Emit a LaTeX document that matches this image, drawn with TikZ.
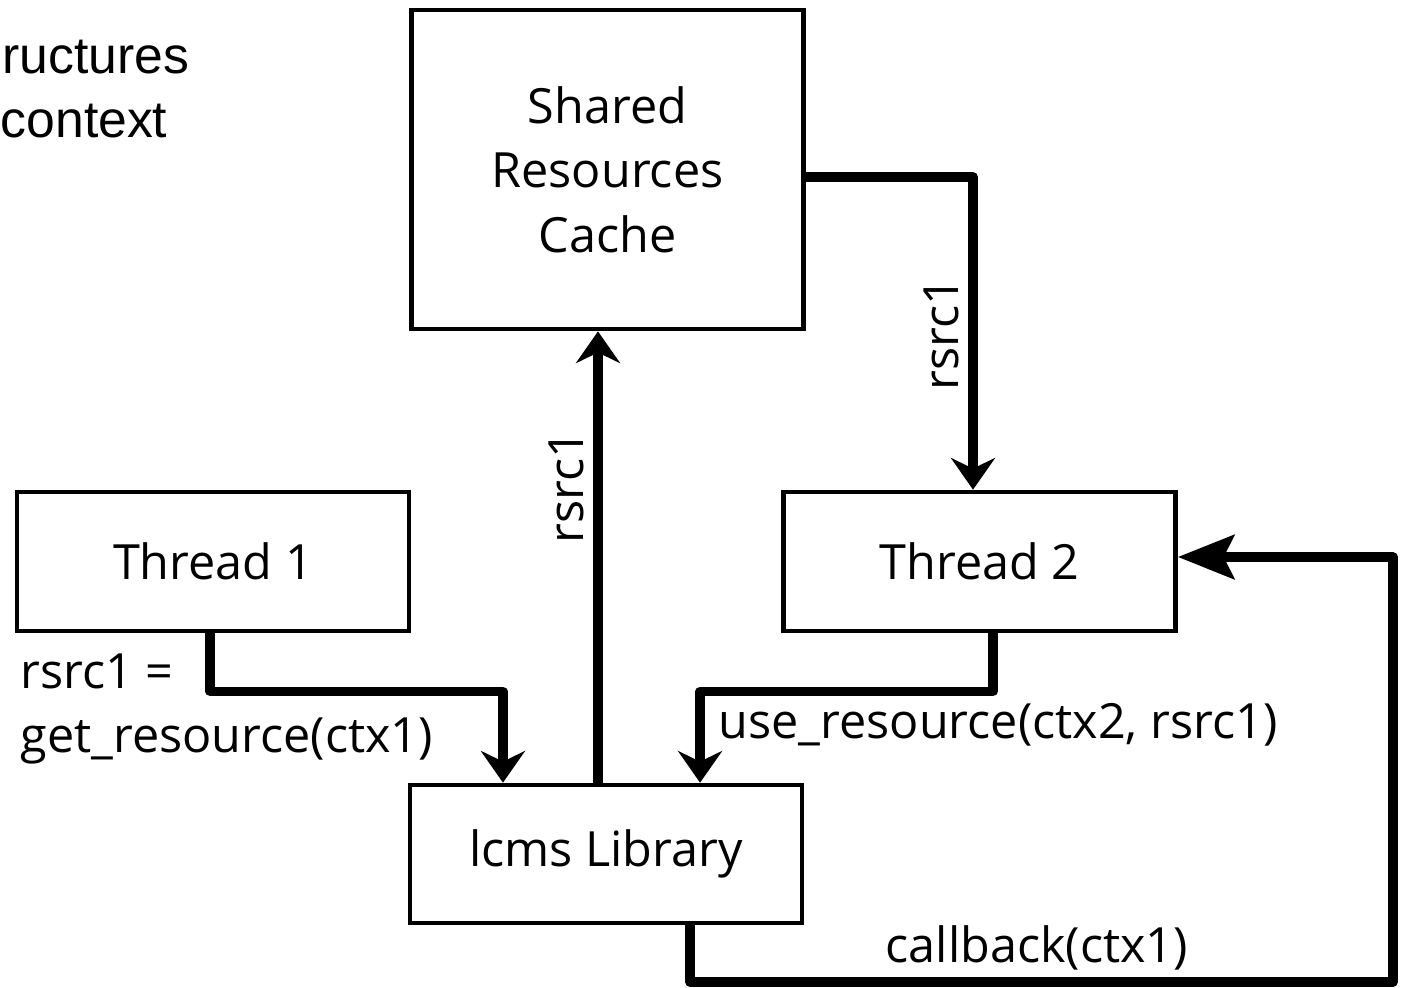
\documentclass[tikz,border=0pt]{standalone}
\usepackage{fontspec}
\setmainfont{Open Sans}
\newfontfamily\slidefont{Liberation Sans}
\usetikzlibrary{arrows.meta}

\tikzset{
  block/.style={draw, line width=1.3pt, minimum width=3.92cm, inner sep=0pt,
    align=center, font=\fontsize{13.8}{18.4}\selectfont},
  conn/.style={line width=2.6pt, line join=round,
    -{Stealth[length=9pt,width=12.5pt,inset=3pt]}},
  longhead/.style={-{Stealth[length=16pt,width=12.5pt,inset=3pt]}},
  lbl/.style={inner sep=0pt, font=\fontsize{13.8}{17}\selectfont},
  slide/.style={inner sep=0pt, font=\slidefont\fontsize{14.7}{18}\selectfont},
}

\begin{document}
\begin{tikzpicture}[x=0.01cm,y=-0.01cm]
\useasboundingbox (0,0) rectangle (1407,987);

% left over from the slide
\node[slide, anchor=base west] (ructures) at (2,73) {ructures};
\node[slide, anchor=base west] (context) at (0,137) {context};

\node[block, minimum height=3.19cm] (cache) at (607.5,169.5) {Shared\\Resources\\Cache};
\node[block, minimum height=1.39cm] (thread1) at (213,561.5) {Thread 1};
\node[block, minimum height=1.39cm] (thread2) at (979.5,561.5) {Thread 2};
\node[block, minimum height=1.38cm] (lib) at (606,854) {lcms Library};

% cache -> thread 2
\draw[conn] ([yshift=-0.075cm]cache.east) -| ([xshift=-0.065cm]thread2.north);
\node[lbl, rotate=90, anchor=base] (rsrcA) at (958,334) {rsrc1};

% library -> cache
\draw[conn] ([xshift=-0.08cm]lib.north) -- ([xshift=-0.08cm]lib.north |- cache.south);
\node[lbl, rotate=90, anchor=base] (rsrcB) at (583,487) {rsrc1};

% thread 1 -> library
\draw[conn] ([xshift=-0.03cm]thread1.south) -- ++(0,58) -| ([xshift=-1.03cm]lib.north);
\node[lbl, anchor=base west] (get1) at (20,688) {rsrc1 =};
\node[lbl, anchor=base west] (get2) at (20,752) {get\_resource(ctx1)};

% thread 2 -> library
\draw[conn] ([xshift=0.135cm]thread2.south) -- ++(0,58) -| ([xshift=0.94cm]lib.north);
\node[lbl, anchor=base west] (use) at (718,738) {use\_resource(ctx2, rsrc1)};

% callback
\draw[conn, longhead] ([xshift=0.84cm]lib.south) |- (1393,982) |- ([yshift=0.045cm]thread2.east);
\node[lbl, anchor=base west] (cb) at (885,962) {callback(ctx1)};
\end{tikzpicture}
\end{document}
